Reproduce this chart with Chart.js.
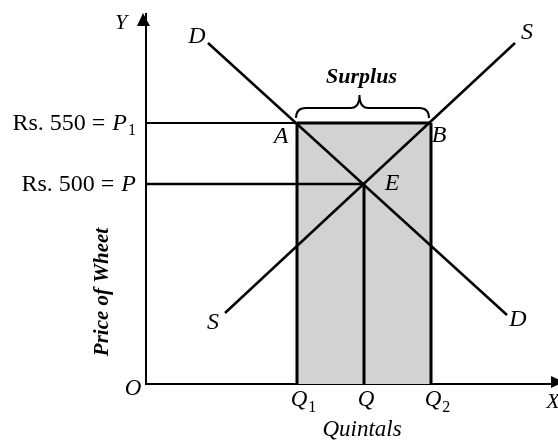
<!DOCTYPE html>
<html>
<head>
<meta charset="utf-8">
<title>Surplus - Price of Wheat</title>
<style>
  html, body { margin: 0; padding: 0; background: #fff; }
  #wrap { width: 558px; height: 441px; }
</style>
<script src="https://cdn.jsdelivr.net/npm/chart.js@4.4.9/dist/chart.umd.min.js"></script>
</head>
<body>
<div id="wrap"><canvas id="surplusChart" width="558" height="441"></canvas></div>
<script>
// values (chart units, origin at O)
const xMax = 410;
const yMax = 370;

// quantity ticks: Q1, Q, Q2
const quantityTicks = [151, 218, 285];
const quantityNames = ['Q', 'Q', 'Q'];
const quantitySubs = ['1', '', '2'];

// price ticks: P, P1
const priceTicks = [200, 261];
const priceTexts = ['Rs. 500 = ', 'Rs. 550 = '];
const priceSubs = ['', '1'];

// demand curve DD and supply curve SS (end points)
const demandX = [62, 361];
const demandY = [341, 69];
const supplyX = [79, 369];
const supplyY = [71, 341];

const SERIF = '"Liberation Serif", "DejaVu Serif", serif';

function pts(xs, ys) {
    return xs.map(function (x, i) { return { x: x, y: ys[i] }; });
}

function lineSet(data, width) {
    return {
        data: data,
        borderColor: '#000',
        borderWidth: width,
        pointRadius: 0,
        fill: false,
        tension: 0
    };
}

const q1 = quantityTicks[0], q = quantityTicks[1], q2 = quantityTicks[2];
const p = priceTicks[0], p1 = priceTicks[1];

const datasets = [
    lineSet(pts(demandX, demandY), 2.5),
    lineSet(pts(supplyX, supplyY), 2.5),
    lineSet([{ x: q1, y: 0 }, { x: q1, y: p1 }], 3),
    lineSet([{ x: q2, y: 0 }, { x: q2, y: p1 }], 3),
    lineSet([{ x: q, y: 0 }, { x: q, y: p }], 3),
    lineSet([{ x: 0, y: p1 }, { x: q1, y: p1 }], 2),
    lineSet([{ x: 0, y: p }, { x: q, y: p }], 2.5),
    // shaded surplus block
    {
        data: [{ x: q1, y: p1 }, { x: q2, y: p1 }],
        borderColor: '#000',
        borderWidth: 3,
        backgroundColor: '#d2d2d2',
        pointRadius: 0,
        fill: 'origin',
        order: 10
    }
];

function text(ctx, str, x, y, font, align, base) {
    ctx.font = font;
    ctx.textAlign = align || 'center';
    ctx.textBaseline = base || 'middle';
    ctx.fillText(str, x, y);
}

// italic letter with upright subscript, centred on the letter
function letterSub(ctx, letter, sub, x, y, size) {
    ctx.font = 'italic ' + size + 'px ' + SERIF;
    ctx.textAlign = 'center';
    ctx.textBaseline = 'middle';
    ctx.fillText(letter, x, y);
    if (sub) {
        const w = ctx.measureText(letter).width;
        text(ctx, sub, x + w / 2 + 1, y + size * 0.35, Math.round(size * 0.68) + 'px ' + SERIF, 'left');
    }
}

const diagramLabels = {
    id: 'diagramLabels',
    afterDatasetsDraw(chart) {
        const ctx = chart.ctx;
        const xs = chart.scales.x, ys = chart.scales.y;
        const px = function (v) { return xs.getPixelForValue(v); };
        const py = function (v) { return ys.getPixelForValue(v); };
        const left = chart.chartArea.left, bottom = chart.chartArea.bottom;
        const top = chart.chartArea.top, right = chart.chartArea.right;
        ctx.save();
        ctx.fillStyle = '#000';
        ctx.strokeStyle = '#000';

        // arrow heads
        ctx.beginPath();
        ctx.moveTo(left - 3, top - 1);
        ctx.lineTo(left + 4, top + 12);
        ctx.lineTo(left - 9, top + 12);
        ctx.closePath();
        ctx.fill();
        ctx.beginPath();
        ctx.moveTo(right + 8, bottom - 2);
        ctx.lineTo(right - 5, bottom - 8);
        ctx.lineTo(right - 5, bottom + 4);
        ctx.closePath();
        ctx.fill();

        // axis letters
        text(ctx, 'Y', left - 25, top + 9, 'italic 22px ' + SERIF);
        text(ctx, 'O', left - 13, bottom + 5, 'italic 23px ' + SERIF);
        text(ctx, 'X', right - 3, bottom + 18, 'italic 22px ' + SERIF);

        // price labels on the left
        const size = 24;
        priceTicks.forEach(function (v, i) {
            const y = py(v);
            let x = left - 10;
            ctx.textBaseline = 'middle';
            if (priceSubs[i]) {
                ctx.font = '16px ' + SERIF;
                x -= ctx.measureText(priceSubs[i]).width;
                text(ctx, priceSubs[i], x, y + 8, '16px ' + SERIF, 'left');
                x -= 1;
            }
            text(ctx, 'P', x, y + 1, 'italic ' + size + 'px ' + SERIF, 'right');
            ctx.font = 'italic ' + size + 'px ' + SERIF;
            x -= ctx.measureText('P').width + 1;
            text(ctx, priceTexts[i], x, y + 1, size + 'px ' + SERIF, 'right');
        });

        // quantity labels below
        quantityTicks.forEach(function (v, i) {
            letterSub(ctx, quantityNames[i], quantitySubs[i], px(v) + 2, bottom + 16, 23);
        });
        text(ctx, 'Quintals', px(q) - 2, bottom + 46, 'italic 23px ' + SERIF);

        // curve labels
        const f = 'italic 24px ' + SERIF;
        text(ctx, 'D', px(demandX[0]) - 11, py(demandY[0]) - 6, f);
        text(ctx, 'D', px(demandX[1]) + 11, py(demandY[1]) + 5, f);
        text(ctx, 'S', px(supplyX[1]) + 12, py(supplyY[1]) - 10, f);
        text(ctx, 'S', px(supplyX[0]) - 12, py(supplyY[0]) + 10, f);
        text(ctx, 'A', px(q1) - 16, py(p1) + 14, f);
        text(ctx, 'B', px(q2) + 8, py(p1) + 13, f);
        text(ctx, 'E', px(q) + 28, py(p), f);

        // surplus brace
        const bl = px(q1) - 1, br = px(q2) - 2, bm = (bl + br) / 2 - 3;
        const endY = py(p1) - 5, armY = py(p1) - 15, tipY = py(p1) - 28;
        ctx.lineWidth = 2;
        ctx.beginPath();
        ctx.moveTo(bl, endY);
        ctx.quadraticCurveTo(bl, armY, bl + 10, armY);
        ctx.lineTo(bm - 9, armY);
        ctx.quadraticCurveTo(bm, armY, bm, tipY);
        ctx.quadraticCurveTo(bm, armY, bm + 9, armY);
        ctx.lineTo(br - 10, armY);
        ctx.quadraticCurveTo(br, armY, br, endY);
        ctx.stroke();
        text(ctx, 'Surplus', bm + 2, py(p1) - 40, 'bold italic 22px ' + SERIF, 'center', 'alphabetic');

        // vertical axis title
        ctx.translate(left - 43, bottom - 92);
        ctx.rotate(-Math.PI / 2);
        text(ctx, 'Price of Wheet', 0, 0, 'bold italic 21px ' + SERIF);
        ctx.restore();
    }
};

new Chart(document.getElementById('surplusChart').getContext('2d'), {
    type: 'line',
    data: { datasets: datasets },
    options: {
        responsive: false,
        animation: false,
        layout: { padding: { left: 146, top: 14, right: 2, bottom: 57 } },
        plugins: {
            legend: { display: false },
            tooltip: { enabled: false }
        },
        scales: {
            x: {
                type: 'linear',
                min: 0,
                max: xMax,
                grid: { display: false },
                ticks: { display: false },
                border: { display: true, color: '#000', width: 2 },
                afterFit: function (s) { s.height = 0; }
            },
            y: {
                type: 'linear',
                min: 0,
                max: yMax,
                grid: { display: false },
                ticks: { display: false },
                border: { display: true, color: '#000', width: 2 },
                afterFit: function (s) { s.width = 0; }
            }
        }
    },
    plugins: [diagramLabels]
});
</script>
</body>
</html>
